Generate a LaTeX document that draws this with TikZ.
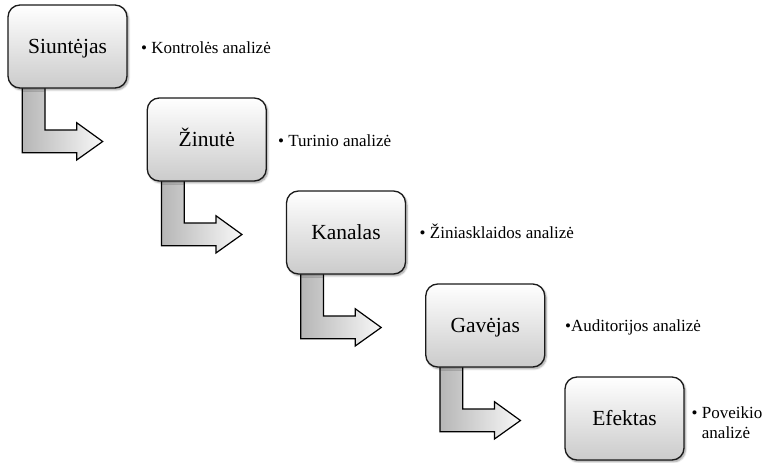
\documentclass[tikz,border=0pt]{standalone}
\usepackage{fontspec}
\setmainfont{Liberation Serif}
\usetikzlibrary{shadows.blur}
\pgfdeclarelayer{bg}
\pgfsetlayers{bg,main}
\definecolor{boxline}{HTML}{1A1A1A}
\definecolor{boxbot}{HTML}{CBCBCB}
\definecolor{arrleft}{HTML}{B6B6B6}
\definecolor{arrright}{HTML}{F8F8F8}
\tikzset{
  stagebox/.style={draw=boxline, line width=1.3pt, rounded corners=12pt,
    minimum width=119pt, minimum height=83pt, inner sep=0pt,
    top color=white, bottom color=boxbot,
    text height=14.2pt, text depth=0pt,
    font=\fontsize{21.5}{24}\selectfont,
    blur shadow={shadow xshift=1.5pt, shadow yshift=-1.8pt, shadow blur steps=6, shadow opacity=40}},
  arrowshape/.style={draw=black, line width=1.2pt, line join=miter,
    left color=arrleft, right color=arrright},
  bulletlabel/.style={anchor=base west, inner sep=0pt, align=left,
    font=\fontsize{17}{20.5}\selectfont}
}
\newcommand{\bentarrow}[1]{%
  \begin{scope}[shift={(#1.center)}]
    \draw[arrowshape] (-45.2,35) -- (-45.2,106.2) -- (9.2,106.2) -- (9.2,113.5)
      -- (35.2,95) -- (9.2,76.2) -- (9.2,83.5) -- (-22.5,83.5) -- (-22.5,35);
  \end{scope}}
\begin{document}
\begin{tikzpicture}[x=1pt,y=-1pt]
\useasboundingbox (0,0) rectangle (774,463);
\node[stagebox] (b1) at (67.5,46.5) {Siuntėjas};
\node[stagebox] (b2) at (206.75,139.5) {Žinutė};
\node[stagebox] (b3) at (346,232.5) {Kanalas};
\node[stagebox] (b4) at (485.25,325.5) {Gavėjas};
\node[stagebox] (b5) at (624.5,418.5) {Efektas};
\begin{pgfonlayer}{bg}
\bentarrow{b1}
\bentarrow{b2}
\bentarrow{b3}
\bentarrow{b4}
\end{pgfonlayer}
\node[bulletlabel] (l1) at (141,53) {\textbullet\ Kontrolės analizė};
\node[bulletlabel] (l2) at (278,146) {\textbullet\ Turinio analizė};
\node[bulletlabel] (l3) at (419.5,238) {\textbullet\ Žiniasklaidos analizė};
\node[bulletlabel] (l4) at (565,331) {\textbullet Auditorijos analizė};
\node[bulletlabel] (l5) at (691.5,418) {\textbullet\ \begin{tabular}[t]{@{}l@{}}Poveikio\\analizė\end{tabular}};
\end{tikzpicture}
\end{document}
